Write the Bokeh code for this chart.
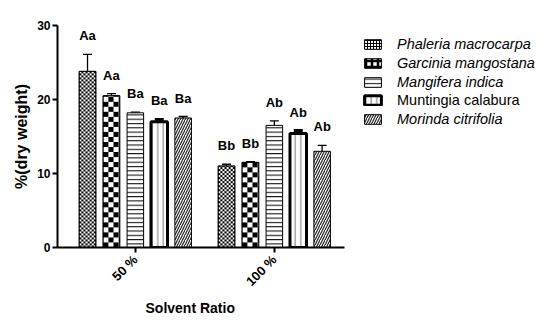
from math import pi
import numpy as np
from bokeh.plotting import figure
from bokeh.models import (ColumnDataSource, Whisker, TeeHead, Legend, LegendItem,
                          FixedTicker, Range1d, Title)
from bokeh.core.properties import value
from bokeh.embed import file_html
from bokeh.resources import INLINE

# ---------------- data ----------------
ratios = ["50 %", "100 %"]
species = ["Phaleria macrocarpa", "Garcinia mangostana", "Mangifera indica",
           "Muntingia calabura", "Morinda citrifolia"]

phaleria = [23.8, 11.0]
garcinia = [20.5, 11.5]
mangifera = [18.2, 16.5]
muntingia = [17.0, 15.4]
morinda = [17.5, 13.0]

phaleria_err = [2.3, 0.25]
garcinia_err = [0.3, 0.1]
mangifera_err = [0.1, 0.6]
muntingia_err = [0.3, 0.4]
morinda_err = [0.2, 0.8]

phaleria_lbl = ["Aa", "Bb"]
garcinia_lbl = ["Aa", "Bb"]
mangifera_lbl = ["Ba", "Ab"]
muntingia_lbl = ["Ba", "Ab"]
morinda_lbl = ["Ba", "Ab"]

y_ticks = [0, 10, 20, 30]

values = [phaleria, garcinia, mangifera, muntingia, morinda]
errors = [phaleria_err, garcinia_err, mangifera_err, muntingia_err, morinda_err]
letters = [phaleria_lbl, garcinia_lbl, mangifera_lbl, muntingia_lbl, morinda_lbl]

# ---------------- styles / layout ----------------
FONT = "Liberation Sans"
STEP = 0.172
BAR_W = 0.119
X0, X1 = -0.56, 1.505          # extent of the drawn x axis
Y0, Y1 = 0, 30
W, H = 537, 315
LEFT, RIGHT, TOP, BOTTOM = 57, 0, 25, 68
PX_PER_X = 139.0
PX_PER_Y = (H - TOP - BOTTOM) / (Y1 - Y0)
X_END = X0 + (W - LEFT - RIGHT) / PX_PER_X

BLACK = np.uint32(0xFF000000)
WHITE = np.uint32(0xFFFFFFFF)


def checker(height_units, cell):
    """Checkerboard texture image for a bar of the given height."""
    ny = max(1, int(round(height_units * PX_PER_Y)))
    nx = max(1, int(round(BAR_W * PX_PER_X)))
    jj, ii = np.meshgrid(np.arange(nx), np.arange(ny))
    mask = ((ii // cell) + (jj // cell)) % 2 == 0
    return np.where(mask, BLACK, WHITE).astype(np.uint32)


textures = {0: 2, 1: 5}          # species index -> checker cell size (px)
styles = [
    dict(hatch_pattern="cross", hatch_color="black", hatch_scale=3,
         hatch_weight=1, line_width=1),
    dict(hatch_pattern="cross", hatch_color="black", hatch_scale=6,
         hatch_weight=2.5, line_width=1),
    dict(hatch_pattern="horizontal_line", hatch_color="black", hatch_scale=4.3,
         hatch_weight=1, line_width=1),
    dict(hatch_pattern="vertical_line", hatch_color="#777777", hatch_scale=5.5,
         hatch_weight=1, line_width=3),
    dict(hatch_pattern="right_diagonal_line", hatch_color="#222222", hatch_scale=5,
         hatch_weight=1.2, line_width=1),
]
italic = [True, True, True, False, True]

p = figure(width=W, height=H, output_backend="svg", toolbar_location=None,
           x_range=Range1d(X0, X_END), y_range=Range1d(Y0, Y1),
           min_border_left=LEFT, min_border_right=RIGHT, min_border_top=TOP,
           min_border_bottom=BOTTOM)
p.outline_line_color = None
p.grid.visible = False
p.background_fill_color = "white"
p.border_fill_color = "white"

renderers = []
for i, sp in enumerate(species):
    xs = [g + (i - 2) * STEP for g in range(len(ratios))]
    src = ColumnDataSource(dict(
        x=xs, top=values[i],
        upper=[v + e for v, e in zip(values[i], errors[i])],
        lbl=letters[i]))
    r = p.vbar(x="x", top="top", width=BAR_W, bottom=0, source=src,
               fill_color="white", line_color="black", **styles[i])
    renderers.append(r)
    if i in textures:
        p.image_rgba(image=[checker(v, textures[i]) for v in values[i]],
                     x=[x - BAR_W / 2 for x in xs], y=[0] * len(xs),
                     dw=[BAR_W] * len(xs), dh=values[i])
        p.vbar(x="x", top="top", width=BAR_W, bottom=0, source=src,
               fill_color=None, line_color="black", line_width=1)
    lw = 3 if i == 3 else 1.3
    w = Whisker(source=src, base="x", lower="top", upper="upper",
                dimension="height", line_color="black", line_width=lw,
                lower_head=None,
                upper_head=TeeHead(size=9, line_color="black", line_width=lw))
    p.add_layout(w)
    p.text(x="x", y="upper", text="lbl", source=src, text_align="center",
           text_baseline="bottom", y_offset=-11, text_font=value(FONT),
           text_font_style="bold", text_font_size="13px", text_color="black")

# ---------------- axes ----------------
for ax in (p.xaxis, p.yaxis):
    ax.axis_line_width = 2
    ax.axis_line_color = "black"
    ax.major_tick_line_width = 2
    ax.major_tick_line_color = "black"
    ax.major_tick_out = 5
    ax.major_tick_in = 0
    ax.minor_tick_line_color = None
    ax.major_label_text_font = FONT
    ax.major_label_text_font_style = "bold"
    ax.major_label_text_color = "black"
    ax.axis_label_text_font = FONT
    ax.axis_label_text_font_style = "bold"
    ax.axis_label_text_color = "black"

p.yaxis.ticker = FixedTicker(ticks=y_ticks)
p.yaxis.major_label_text_font_size = "12px"
p.yaxis.major_label_standoff = 2
p.yaxis.axis_label = "%(dry weight)"
p.yaxis.axis_label_text_font_size = "16px"
p.yaxis.axis_label_standoff = 4

p.xaxis.bounds = (X0, X1)
p.xaxis.ticker = FixedTicker(ticks=list(range(len(ratios))))
p.xaxis.major_label_overrides = {i: r for i, r in enumerate(ratios)}
p.xaxis.major_label_orientation = pi / 4
p.xaxis.major_label_text_font_size = "13px"
p.xaxis.major_label_standoff = 5

xtitle = Title(text="Solvent Ratio", align="left", offset=88, standoff=0,
               text_font=FONT, text_font_size="14px", text_font_style="bold",
               text_color="black")
p.add_layout(xtitle, "below")

# ---------------- legends ----------------
groups = [(0, 3, True, 156), (3, 4, False, 138), (4, 5, True, 119)]
for a, b, it, ypos in groups:
    items = [LegendItem(label=species[k], renderers=[renderers[k]]) for k in range(a, b)]
    lg = Legend(items=items, location=(305, ypos), padding=0, margin=0,
                border_line_color=None, background_fill_alpha=0,
                glyph_width=21, glyph_height=12, label_standoff=14,
                label_height=18, spacing=1,
                label_text_font=FONT, label_text_font_size="14.5px",
                label_text_font_style="italic" if it else "normal",
                label_text_color="black")
    p.add_layout(lg, "center")

open("out.html", "w").write(file_html(p, INLINE))
